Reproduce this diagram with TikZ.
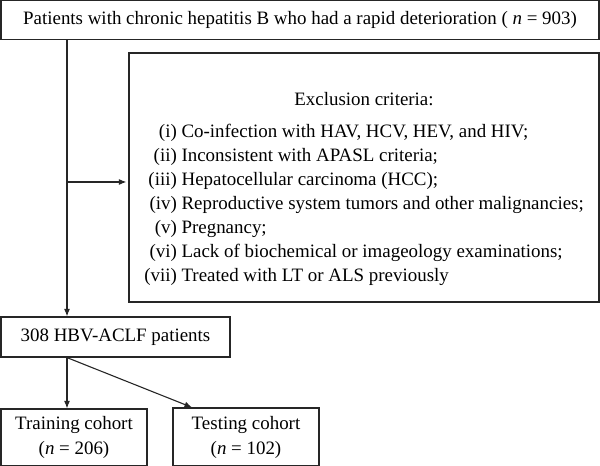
\documentclass[tikz,border=0pt]{standalone}
\usepackage{fontspec}
\setmainfont{Liberation Serif}
\usetikzlibrary{positioning,arrows.meta}

\begin{document}
\begin{tikzpicture}[
  x=1bp,y=-1bp,
  box/.style={rectangle,draw=black!85,line width=1.2bp,inner sep=0pt,font=\fontsize{19}{24.2}\selectfont},
  cohort/.style={box,minimum width=146bp,align=center,font=\fontsize{19}{25}\selectfont},
  arrow/.style={-{Latex[length=7.5bp,width=6bp]},black!85,line width=1.1bp}
]
\useasboundingbox (0,0) rectangle (600,466);

\node[box,minimum width=598bp,minimum height=39bp] (top) at (300,20)
  {Patients with chronic hepatitis B who had a rapid deterioration ( \textit{n} = 903)};

\node[box,minimum width=470bp,minimum height=249bp] (excl) at (364,177.5) {%
  \begin{tabular}{@{}r@{\ }l@{}}
  \multicolumn{2}{c}{\rule{0pt}{40bp}Exclusion criteria:}\\[7bp]
  (i) & Co-infection with HAV, HCV, HEV, and HIV;\\
  (ii) & Inconsistent with APASL criteria;\\
  (iii) & Hepatocellular carcinoma (HCC);\\
  (iv) & Reproductive system tumors and other malignancies;\\
  (v) & Pregnancy;\\
  (vi) & Lack of biochemical or imageology examinations;\\
  (vii) & Treated with LT or ALS previously
  \end{tabular}};

\node[box,minimum width=229bp,minimum height=40bp] (hbv) at (115.5,337) {308 HBV-ACLF patients};

\node[cohort,minimum height=57bp] (train) at (74,437.5)
  {Training cohort\\(\textit{n} = 206)};
\node[cohort,minimum height=58bp] (test) at (246,437)
  {Testing cohort\\(\textit{n} = 102)};

% spine and branch points
\coordinate (spine) at (67,0);
\coordinate (branch) at (67,182);
\coordinate (testin) at (192,0);

\draw[arrow] (top.south -| spine) -- (hbv.north -| spine);
\draw[arrow,shorten >=2bp] (branch) -- (branch -| excl.west);
\draw[arrow] (hbv.south -| spine) -- (train.north -| spine);
\draw[arrow] (hbv.south -| spine) -- (test.north -| testin);

\end{tikzpicture}
\end{document}
